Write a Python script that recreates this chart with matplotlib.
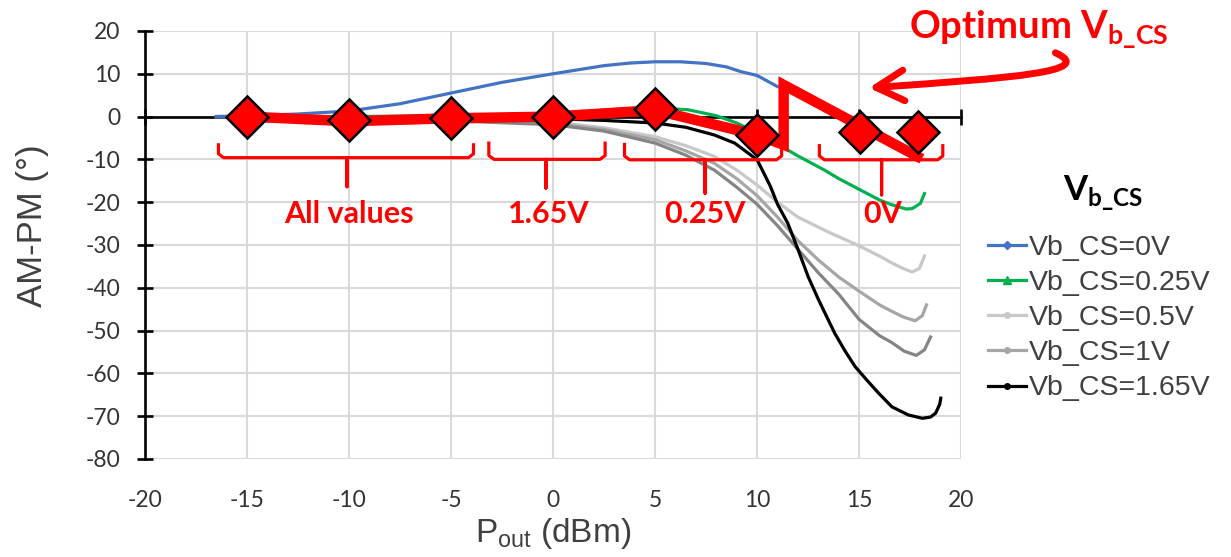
import matplotlib
matplotlib.use("Agg")
import matplotlib.pyplot as plt
from matplotlib import font_manager as fm
from matplotlib.path import Path
from matplotlib.patches import FancyArrowPatch
from matplotlib.lines import Line2D
from matplotlib.font_manager import FontProperties

names = {f.name for f in fm.fontManager.ttflist}
CAL = 'Lato' if 'Lato' in names else 'DejaVu Sans'
ARIAL = 'Liberation Sans' if 'Liberation Sans' in names else 'DejaVu Sans'
plt.rcParams['axes.unicode_minus'] = False

# ---------------- data ----------------
x_0V = [-16.5, -15, -12.5, -10, -7.5, -5, -2.5, 0, 2.5, 3.75, 5, 6.25, 7.5, 8.5, 9.2, 10, 11]
y_0V = [0, 0.2, 0.6, 1.3, 3.0, 5.5, 8.0, 10.0, 11.9, 12.5, 12.8, 12.8, 12.4, 11.6, 10.5, 9.6, 7.0]

x_025V = [-16.5, -15, -10, -5, 0, 2.5, 5, 6.6, 8, 9, 10, 10.85, 12, 13.3, 14, 15, 16, 16.6, 17.3, 17.6, 18.0, 18.2]
y_025V = [0, 0, 0, 0.2, 0.6, 1.4, 2.0, 1.6, 0.2, -1.5, -3.8, -6.0, -9.2, -12.5, -14.5, -17.0, -19.5, -20.6, -21.6, -21.5, -20.3, -18.0]

x_05V = [-16.5, -10, -5, 0, 2.5, 5, 6.5, 7.9, 9, 10, 11, 12, 13.5, 15, 16, 16.6, 17.2, 17.6, 17.95, 18.2]
y_05V = [0, -0.3, -0.8, -1.3, -2.6, -4.7, -6.8, -9.3, -12.5, -16.0, -20.0, -23.5, -27.0, -30.2, -32.6, -34.2, -35.6, -36.3, -35.5, -32.6]

x_1V = [-16.5, -10, -5, 0, 2.5, 5, 6.5, 7.9, 9, 10, 11, 12, 13, 14, 15, 16, 16.6, 17.2, 17.75, 18.1, 18.3]
y_1V = [0, -0.3, -0.9, -1.6, -3.0, -5.4, -8.0, -10.9, -14.5, -18.5, -23.5, -29.0, -33.5, -37.5, -40.8, -44.0, -45.5, -46.9, -47.7, -46.5, -44.0]

x_dark = [-16.5, -10, -5, 0, 2.5, 5, 6.5, 7.9, 9, 10, 11, 12, 13, 14, 15, 16, 16.6, 17.2, 17.8, 18.2, 18.5]
y_dark = [0, -0.4, -1.0, -1.9, -3.4, -6.2, -9.0, -12.5, -16.5, -20.5, -25.5, -31.0, -36.5, -41.5, -47.4, -51.2, -52.8, -54.8, -55.8, -54.5, -51.5]

x_165V = [-16.5, -10, -5, 0, 2.5, 5, 6.5, 7.9, 8.9, 10, 10.65, 11, 11.5, 12, 12.5, 13, 13.8, 14.3, 14.8, 15.4, 15.95, 16.6, 17.4, 18.1, 18.5, 18.75, 18.95, 19.0]
y_165V = [0, 0, -0.3, -0.5, -0.9, -1.5, -2.5, -4.3, -6.2, -10.1, -16.3, -20.5, -24.9, -31.0, -37.4, -42.7, -50.6, -54.7, -58.4, -61.7, -64.6, -67.8, -69.7, -70.5, -70.2, -69.3, -67.2, -65.8]

opt_x = [-15, -10, -5, 0, 5, 10, 11.3, 11.3, 17.85]
opt_y = [0, -1.1, -0.4, 0, 1.5, -4.3, -6.6, 7.4, -9.3]

dia_x = [-15, -10, -5, 0, 5, 10, 15.05, 17.9]
dia_y = [-0.1, -0.9, -0.4, -0.1, 1.7, -4.3, -3.5, -3.5]

# brackets: (left, centre, right, top, bar, stem bottom)
brackets = [(-16.4, -10.1, -3.9, -6.6, -9.6, -16.4),
            (-3.15, -0.35, 2.55, -6.2, -10.0, -16.7),
            (3.5, 7.45, 11.2, -6.5, -10.1, -17.9),
            (13.05, 16.1, 19.1, -6.8, -10.1, -18.3)]
bracket_labels = ["All values", "1.65V", "0.25V", "0V"]
label_x = [-10.0, -0.2, 7.45, 16.15]
label_y = -22.8

legend_labels = ['Vb_CS=0V', 'Vb_CS=0.25V', 'Vb_CS=0.5V', 'Vb_CS=1V', 'Vb_CS=1.65V']
legend_colors = ['#4472c4', '#00b050', '#c8c8c8', '#a6a6a6', 'black']
legend_markers = ['D', '^', 'o', 'o', 'o']

xticks = list(range(-20, 21, 5))
yticks = list(range(-80, 21, 10))

# ---------------- figure ----------------
fig = plt.figure(figsize=(12.31, 5.57), dpi=100)
ax = fig.add_axes([0.1178, 0.176, 0.663, 0.7684])
ax.set_xlim(-20, 20)
ax.set_ylim(-80, 20)
ax.set_xticks(xticks)
ax.set_yticks(yticks)
ax.grid(True, color='#d9d9d9', lw=1.5)
ax.set_axisbelow(True)

for s in ['top', 'right']:
    ax.spines[s].set_visible(False)
ax.spines['bottom'].set_position(('data', 0))
ax.spines['bottom'].set_linewidth(1.9)
ax.spines['left'].set_linewidth(1.9)
ax.spines['bottom'].set_zorder(1.5)
ax.tick_params(axis='x', direction='inout', length=11, width=1.9, labelbottom=False)
ax.tick_params(axis='y', direction='inout', length=11, width=1.9, labelsize=16.5,
               pad=12, labelfontfamily=CAL, colors='black')
for lab in ax.get_yticklabels():
    lab.set_color('#333333')

sec = ax.secondary_xaxis('bottom')
sec.set_xticks(xticks)
sec.tick_params(length=0, pad=22, labelsize=16.5, labelfontfamily=CAL, labelcolor='#333333')
sec.spines['bottom'].set_visible(False)
sec.set_xlabel(r"P$_\mathregular{out}$ (dBm)", fontsize=24, family=ARIAL, labelpad=4, color='#404040')

ax.set_ylabel("AM-PM (°)", fontsize=25, family=ARIAL, color='#404040')
ax.yaxis.set_label_coords(-0.118, 0.545)

lw = 2.3
ax.plot(x_05V, y_05V, color='#c8c8c8', lw=lw, zorder=3)
ax.plot(x_1V, y_1V, color='#a6a6a6', lw=lw, zorder=3)
ax.plot(x_dark, y_dark, color='#858585', lw=lw, zorder=3)
ax.plot(x_165V, y_165V, color='black', lw=lw, zorder=3.2)
ax.plot(x_025V, y_025V, color='#00b050', lw=lw, zorder=3.3)
ax.plot(x_0V, y_0V, color='#4472c4', lw=lw, zorder=3.4)

ax.plot(opt_x, opt_y, color='red', lw=7.5, solid_joinstyle='miter', zorder=5)
ax.plot(dia_x, dia_y, ls='none', marker='D', ms=21, mfc='red', mec='black', mew=1.8, zorder=6)

for (x0, xc, x1, yt, yb, ys) in brackets:
    bx = [x0, x0, x0 + 0.25, xc, xc, xc, x1 - 0.25, x1, x1]
    by = [yt, yb + 0.9, yb, yb, ys, yb, yb, yb + 0.9, yt]
    ax.plot(bx, by, color='red', lw=2.3, zorder=4, solid_joinstyle='round')
for s, lx in zip(bracket_labels, label_x):
    ax.text(lx, label_y, s, color='red', fontsize=22, fontweight='bold', family=CAL,
            ha='center', va='center', zorder=7)

ax.text(17.45, 20.2, r"Optimum V$_\mathregular{b\_CS}$", color='red', fontsize=27.5,
        fontweight='bold', family=CAL, ha='left', va='center', clip_on=False, zorder=7)

arrow_path = Path([(24.62, 14.9), (26.68, 10.43), (22.5, 9.04), (15.48, 6.7)],
                  [Path.MOVETO, Path.CURVE4, Path.CURVE4, Path.CURVE4])
arr = FancyArrowPatch(path=arrow_path, arrowstyle='->,head_length=1.0,head_width=0.55',
                      mutation_scale=20, lw=5, color='red', transform=ax.transData,
                      capstyle='round', joinstyle='round', clip_on=False, zorder=7)
ax.add_patch(arr)

handles = [Line2D([], [], color=c, lw=2.3, marker=m, ms=(6 if m == '^' else 4), label=l)
           for l, c, m in zip(legend_labels, legend_colors, legend_markers)]
leg = fig.legend(handles=handles, loc='upper left', bbox_to_anchor=(0.8026, 0.578),
                 frameon=False, prop=FontProperties(family=ARIAL, size=20.5),
                 handlelength=1.35, handletextpad=0.1, labelspacing=0.32,
                 borderpad=0, borderaxespad=0)
for t in leg.get_texts():
    t.set_color('#404040')
fig.text(0.896, 0.6535, r"V$_\mathregular{b\_CS}$", fontsize=25, fontweight='bold',
         family=CAL, color='black', ha='center', va='center')

fig.savefig('out.png', dpi=100)
